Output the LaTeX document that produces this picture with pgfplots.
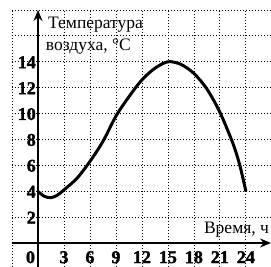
\documentclass[border=0pt]{standalone}
\usepackage{fontspec}
\setmainfont{Liberation Serif}
\newfontfamily\numfont{Liberation Serif}[BoldFeatures={FakeBold=1.6}]
\usepackage{pgfplots}
\pgfplotsset{compat=1.18}
\usetikzlibrary{arrows.meta}
\newcommand{\tl}[1]{{\numfont\fontsize{18}{18}\selectfont\bfseries #1}}
\begin{document}
\begin{tikzpicture}[x=1pt,y=1pt]
\path[use as bounding box] (-12,0) rectangle (259,267);
\begin{axis}[
  at={(0,0)}, anchor=south west,
  scale only axis, width=259pt, height=257pt,
  xmin=-3, xmax=26.9, ymin=-1.855, ymax=18,
  axis lines=middle,
  axis line style={line width=1.6pt, -{Stealth[length=11pt,width=9pt]}},
  hide obscured x ticks=false, hide obscured y ticks=false,
  major tick length=0pt,
  xtick={-3,0,3,...,24}, ytick={2,4,...,18},
  xticklabels={,\makebox[0pt][r]{\tl{0}\hspace{3pt}},\tl{3},\tl{6},\tl{9},\tl{12},\tl{15},\tl{18},\tl{21},\tl{24}},
  yticklabels={\tl{2},\tl{4},\tl{6},\tl{8},\tl{10},\tl{12},\tl{14},,},
  xticklabel style={anchor=north, inner sep=0pt, yshift=-8pt},
  yticklabel style={anchor=east, inner sep=0pt, xshift=-2pt, yshift=-0.5pt},
  grid=major,
  major grid style={black, line width=0.8pt, dash pattern=on 0.8pt off 2.2pt},
  clip=false,
]
\addplot[black, line width=3pt, smooth] coordinates {
 (0,3.98) (0.75,3.6) (1.5,3.5) (2.25,3.7) (3,4.1) (4.5,5.0) (6,6.3)
 (7.5,7.85) (9,9.8) (10.5,11.3) (12,12.6) (13.5,13.5) (15,14.0) (16.5,13.8)
 (18,13.1) (19.5,11.9) (21,10.1) (22.5,7.7) (23.3,6.0) (24,4.0)
};
\node[anchor=base west, inner sep=0pt, font=\fontsize{17.5}{17.5}\selectfont] at (axis cs:1.15,16.6) {Температура};
\node[anchor=base west, inner sep=0pt, font=\fontsize{17.5}{17.5}\selectfont] at (axis cs:0.9,14.9) {воздуха, °C};
\node[anchor=base west, inner sep=0pt, font=\fontsize{17.5}{17.5}\selectfont] at (axis cs:19.15,0.77) {Время, ч};
\end{axis}
\end{tikzpicture}
\end{document}
